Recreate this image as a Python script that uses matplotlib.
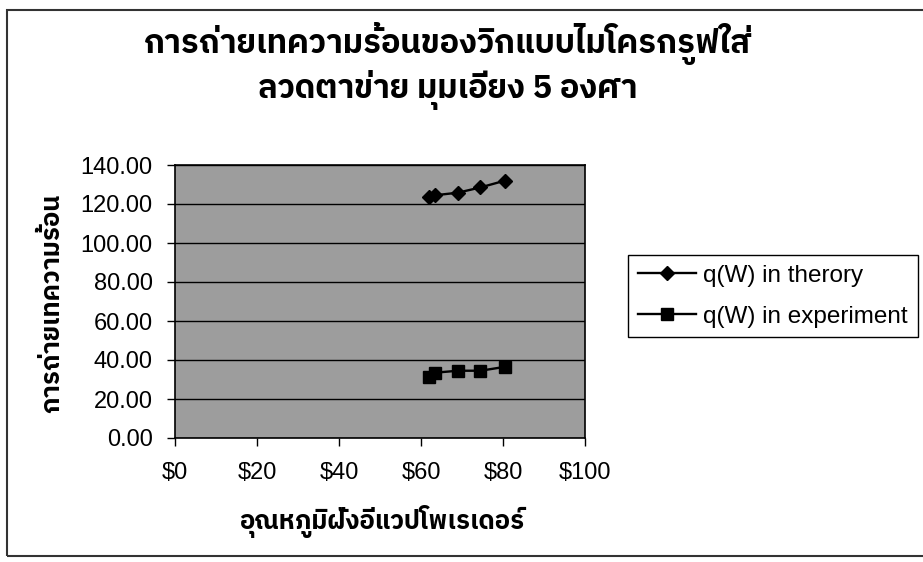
import matplotlib
matplotlib.use('Agg')
import matplotlib.pyplot as plt
from matplotlib import font_manager
from matplotlib.patches import Rectangle

# evaporator temperature vs heat transfer, 5 degree mesh wick
temp = [62.0, 63.5, 69.0, 74.5, 80.5]
q_theory = [123.5, 124.5, 125.8, 128.5, 132.0]
q_experiment = [31.5, 33.5, 34.5, 34.5, 36.5]

labels = ['q(W) in therory', 'q(W) in experiment']
title = 'การถ่ายเทความร้อนของวิกแบบไมโครกรูฟใส่\nลวดตาข่าย มุมเอียง 5 องศา'
xlabel = 'อุณหภูมิฝั่งอีแวปโพเรเดอร์'
ylabel = 'การถ่ายเทความร้อน'
xticks = [0, 20, 40, 60, 80, 100]
yticks = [0, 20, 40, 60, 80, 100, 120, 140]

# pick a font with Thai glyphs if one is installed
thai = sorted(set(f.name for f in font_manager.fontManager.ttflist if 'Thai' in f.name))
thai_family = thai[:1] + ['DejaVu Sans']
num_family = ['Liberation Sans', 'DejaVu Sans']

fig = plt.figure(figsize=(9.23, 5.62), dpi=100)
ax = fig.add_axes([175/923, 1-438/562, 410/923, 273/562])

ax.set_facecolor('#9d9d9d')
ax.plot(temp, q_theory, color='black', lw=1.7, marker='D', ms=7.5, label=labels[0])
ax.plot(temp, q_experiment, color='black', lw=1.7, marker='s', ms=8, label=labels[1])

ax.set_xlim(0, 100)
ax.set_ylim(0, 140)
ax.set_xticks(xticks)
ax.set_xticklabels(['$%d' % v for v in xticks], family=num_family, fontsize=17)
ax.set_yticks(yticks)
ax.set_yticklabels(['%.2f' % v for v in yticks], family=num_family, fontsize=17)
ax.tick_params(direction='out', length=6, width=1, colors='black')
ax.tick_params(axis='x', pad=11)
ax.tick_params(axis='y', pad=10)
ax.yaxis.grid(True, color='black', lw=1)
ax.set_axisbelow(True)
for s in ax.spines.values():
    s.set_color('black')
    s.set_linewidth(1.2)

fig.text(0.485, 1-66/562, title, family=thai_family, fontsize=23.5, fontweight='bold',
         ha='center', va='center', linespacing=1.2)
fig.text(382/923, 1-522/562, xlabel, family=thai_family, fontsize=18.5, fontweight='bold',
         ha='center', va='center')
fig.text(52/923, 1-303/562, ylabel, family=thai_family, fontsize=18.5, fontweight='bold',
         ha='center', va='center', rotation=90)

leg = ax.legend(loc='upper left', bbox_to_anchor=(628/923, 1-255/562),
                bbox_transform=fig.transFigure, borderaxespad=0,
                frameon=True, fancybox=False, edgecolor='black', framealpha=1,
                prop={'family': num_family, 'size': 17.5}, handlelength=2.4,
                handletextpad=0.3, labelspacing=0.78, borderpad=0.4)
leg.get_frame().set_linewidth(1)

# outer chart frame
fig.patches.append(Rectangle((7/923, 1-556/562), 920/923, 546/562,
                             transform=fig.transFigure, fill=False,
                             edgecolor='#333333', lw=1.5))

fig.savefig('out.png', dpi=100)
